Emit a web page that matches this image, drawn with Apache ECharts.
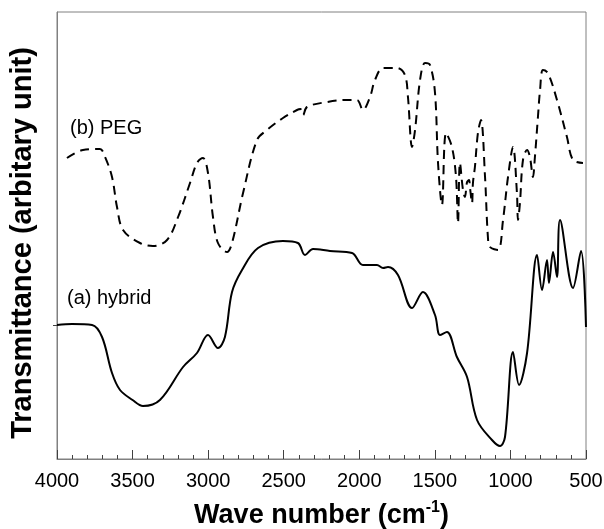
<!DOCTYPE html>
<html>
<head>
<meta charset="utf-8">
<script src="https://cdn.jsdelivr.net/npm/echarts@6/dist/echarts.min.js"></script>
<style>
html,body{margin:0;padding:0;background:#fff;}
#chart{width:604px;height:529px;}
</style>
</head>
<body>
<div id="chart"></div>
<script>
// Wavenumbers (cm-1) and transmittance (arbitrary units)
const hybridWN = [4000, 3900, 3768, 3702, 3636, 3583, 3500, 3431, 3319, 3166, 3074, 3001, 2935, 2889, 2842, 2776, 2670, 2505, 2406, 2359, 2306, 2194, 2048, 1976, 1883, 1843, 1810, 1744, 1651, 1579, 1499, 1466, 1420, 1354, 1287, 1221, 1122, 1069, 1036, 983, 943, 890, 824, 791, 758, 745, 718, 692, 672, 586, 533, 500];
const hybridT  = [134, 135, 134, 122, 86, 69, 59, 53, 59, 92, 106, 124, 111, 122, 167, 189, 211, 218, 216, 204, 210, 208, 206, 194, 194, 191, 192, 184, 151, 167, 144, 124, 127, 102, 82, 39, 19, 13, 22, 107, 74, 106, 204, 169, 199, 176, 207, 182, 239, 171, 208, 132];

const pegWN = [3934, 3828, 3716, 3682, 3636, 3603, 3563, 3451, 3365, 3272, 3199, 3120, 3074, 3034, 3001, 2968, 2935, 2875, 2842, 2769, 2677, 2611, 2505, 2412, 2390, 2372, 2346, 2213, 2081, 2015, 1976, 1929, 1896, 1843, 1750, 1698, 1678, 1651, 1631, 1598, 1565, 1532, 1499, 1479, 1453, 1426, 1387, 1360, 1347, 1334, 1314, 1301, 1287, 1274, 1268, 1254, 1248, 1235, 1215, 1195, 1168, 1149, 1135, 1082, 1049, 1016, 983, 957, 950, 937, 917, 890, 871, 851, 838, 818, 804, 785, 752, 692, 626, 586, 520];
const pegT  = [301, 309, 310, 302, 282, 252, 229, 216, 213, 219, 242, 276, 296, 301, 286, 242, 216, 207, 216, 266, 319, 329, 341, 349, 350, 344, 352, 357, 359, 359, 349, 362, 379, 391, 391, 384, 362, 312, 329, 379, 396, 394, 366, 296, 254, 326, 312, 282, 236, 296, 269, 262, 277, 279, 272, 256, 276, 292, 326, 339, 282, 222, 212, 209, 239, 282, 312, 266, 239, 256, 299, 309, 302, 282, 302, 342, 369, 389, 386, 359, 322, 299, 296];

const xTicks = [500, 1000, 1500, 2000, 2500, 3000, 3500, 4000];
const yTickValues = [134];
const labelPEG = '(b) PEG';
const labelHybrid = '(a) hybrid';
const yTitle = 'Transmittance (arbitary unit)';

function pairs(xs, ys){ return xs.map((x,i)=>[x, ys[i]]); }

const chart = echarts.init(document.getElementById('chart'), null, {renderer:'canvas'});
const FONT = 'Liberation Sans, Arial, Helvetica, sans-serif';
chart.setOption({
  animation: false,
  backgroundColor: '#fff',
  grid: {left: 57, right: 18, top: 12, bottom: 70, containLabel: false, outerBoundsMode: 'none',
    show: true, borderColor: '#808080', borderWidth: 1},
  xAxis: {
    type: 'value', inverse: true, min: 500, max: 4000, interval: 500,
    axisLine: {show: true, lineStyle: {color: '#808080', width: 1}},
    axisTick: {show: true, inside: true, length: 9, lineStyle: {color: '#404040'}},
    minorTick: {show: true, splitNumber: 5, length: 4, lineStyle: {color: '#404040'}},
    splitLine: {show: false},
    axisLabel: {color: '#000', fontSize: 20, fontFamily: FONT, margin: 12,
      formatter: v => xTicks.includes(v) ? String(v) : ''},
    name: '{a|Wave number (cm}{s|-1}{a|)}',
    nameLocation: 'middle', nameGap: 38,
    nameTextStyle: {
      rich: {
        a: {fontSize: 27, fontWeight: 'bold', fontFamily: FONT, color: '#000', verticalAlign: 'bottom', lineHeight: 32},
        s: {fontSize: 16, fontWeight: 'bold', fontFamily: FONT, color: '#000', verticalAlign: 'bottom', lineHeight: 32, padding: [0,0,13,0]}
      }
    }
  },
  yAxis: {
    type: 'value', min: 0, max: 447,
    axisLine: {show: true, lineStyle: {color: '#808080', width: 1}},
    axisTick: {show: true, inside: false, length: 4, customValues: yTickValues, lineStyle: {color: '#404040'}},
    axisLabel: {show: false},
    splitLine: {show: false}
  },
  series: [
    {
      name: labelHybrid, type: 'line', data: pairs(hybridWN, hybridT), showSymbol: false, smooth: 0.35,
      lineStyle: {color: '#000', width: 2}
    },
    {
      name: labelPEG, type: 'line', data: pairs(pegWN, pegT), showSymbol: false, smooth: 0.35,
      lineStyle: {color: '#000', width: 2, type: [9, 6]}
    }
  ],
  graphic: [
    {type: 'text', left: 70, top: 118, style: {text: labelPEG, fontSize: 20, fontFamily: FONT, fill: '#000'}},
    {type: 'text', left: 67, top: 288, style: {text: labelHybrid, fontSize: 20, fontFamily: FONT, fill: '#000'}},
    {type: 'text', x: 23, y: 243, rotation: Math.PI / 2,
      style: {text: yTitle, fontSize: 29, fontWeight: 'bold', fontFamily: FONT, fill: '#000', align: 'center', verticalAlign: 'middle'}}
  ]
});
</script>
</body>
</html>
